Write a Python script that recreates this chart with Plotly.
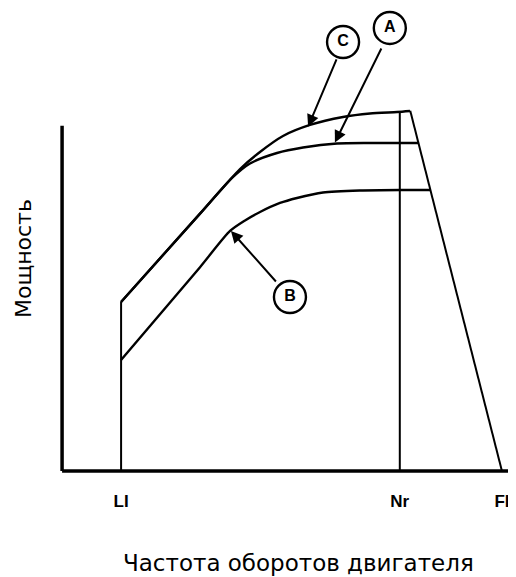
import plotly.graph_objects as go

# ---- data (engine speed units, power units) ----
tick_vals = [13.0, 74.4, 96.9]
tick_text = ["<b>LI</b>", "<b>Nr</b>", "<b>FI</b>"]

# curve C (upper)
c_x = [12.99, 30.39, 39.20, 43.60, 48.67, 54.62, 61.89, 67.84, 73.79, 76.65]
c_y = [37.31, 56.80, 66.64, 70.42, 73.95, 76.38, 78.15, 78.92, 79.25, 79.47]
# curve A (middle)
a_x = [12.99, 30.39, 37.44, 41.40, 47.35, 53.08, 60.57, 67.84, 74.45, 78.41]
a_y = [37.31, 56.80, 64.68, 67.88, 70.20, 71.41, 72.30, 72.41, 72.41, 72.41]
# curve B (lower)
b_x = [12.99, 30.39, 37.00, 40.30, 43.61, 48.01, 51.76, 57.49, 65.64, 74.45, 81.06]
b_y = [24.50, 44.99, 52.98, 55.30, 57.17, 59.16, 60.26, 61.48, 61.92, 62.03, 62.03]

# construction lines
li_x, li_top = 13.0, 37.3
nr_x, nr_top = 74.4, 79.3
fall_x = [76.7, 96.9]
fall_y = [79.5, 0.0]
y_axis_top = 76.2
x_axis_end = 100.0

# labels (circle positions) and arrows (head, tail)
lbl_text = ["C", "A", "B"]
lbl_x = [61.9, 72.2, 50.2]
lbl_y = [94.7, 97.8, 38.4]
arr_head_x = [54.2, 60.1, 37.2]
arr_head_y = [76.0, 72.5, 53.0]
arr_tail_x = [60.6, 70.5, 47.4]
arr_tail_y = [91.2, 93.6, 41.5]

x_title = "Частота оборотов двигателя"
y_title = "Мощность"

FONT = "Liberation Sans, Arial, sans-serif"
TITLE_FONT = "DejaVu Sans, sans-serif"
fig = go.Figure()

def line(x, y, w=2, shape="linear"):
    fig.add_trace(go.Scatter(x=x, y=y, mode="lines",
                             line=dict(color="black", width=w, shape=shape,
                                       smoothing=0.7),
                             hoverinfo="skip", showlegend=False))

# axes
line([0, 0], [0, y_axis_top], 3.5)
line([0, x_axis_end], [0, 0], 3.5)
# verticals
line([li_x, li_x], [0, li_top], 2)
line([nr_x, nr_x], [0, nr_top], 2)
line(fall_x, fall_y, 2)
# curves
line(c_x, c_y, 2.4, "spline")
line(a_x, a_y, 2.4, "spline")
line(b_x, b_y, 2.4, "spline")

# arrows
for hx, hy, tx, ty in zip(arr_head_x, arr_head_y, arr_tail_x, arr_tail_y):
    fig.add_annotation(x=hx, y=hy, ax=tx, ay=ty, xref="x", yref="y",
                       axref="x", ayref="y", text="", showarrow=True,
                       arrowhead=2, arrowsize=1.2, arrowwidth=2,
                       arrowcolor="black")

# circled labels
fig.add_trace(go.Scatter(x=lbl_x, y=lbl_y, mode="markers+text",
                         text=["<b>%s</b>" % t for t in lbl_text],
                         textposition="middle center",
                         textfont=dict(family=FONT, size=16, color="black"),
                         marker=dict(size=32, color="white",
                                     line=dict(color="black", width=2.4)),
                         hoverinfo="skip", showlegend=False, cliponaxis=False))

# page pixel -> paper coordinates (plot area: x 53..516, y 18..480)
fig.add_annotation(x=(298 - 53) / 463, y=(480 - 563) / 462,
                   xref="paper", yref="paper", text=x_title, showarrow=False,
                   font=dict(family=TITLE_FONT, size=23, color="black"),
                   xanchor="center", yanchor="middle")
fig.add_annotation(x=(23 - 53) / 463, y=(480 - 259) / 462, xref="paper", yref="paper",
                   text=y_title, textangle=-90, showarrow=False,
                   font=dict(family=TITLE_FONT, size=22, color="black"),
                   xanchor="center", yanchor="middle")

fig.update_xaxes(range=[-2, 100], showgrid=False, zeroline=False,
                 showline=False, tickvals=tick_vals, ticktext=tick_text,
                 ticks="", ticklabelstandoff=9,
                 tickfont=dict(family=FONT, size=17, color="black"))
fig.update_yaxes(range=[-2, 100], showgrid=False, zeroline=False,
                 showline=False, showticklabels=False, ticks="")
# page has an 8px body margin: figure spans page pixels 8..516 x 8..577
fig.update_layout(width=508, height=569, margin=dict(l=45, r=0, t=10, b=97),
                  plot_bgcolor="white", paper_bgcolor="white",
                  showlegend=False)

fig.write_html("out.html")
